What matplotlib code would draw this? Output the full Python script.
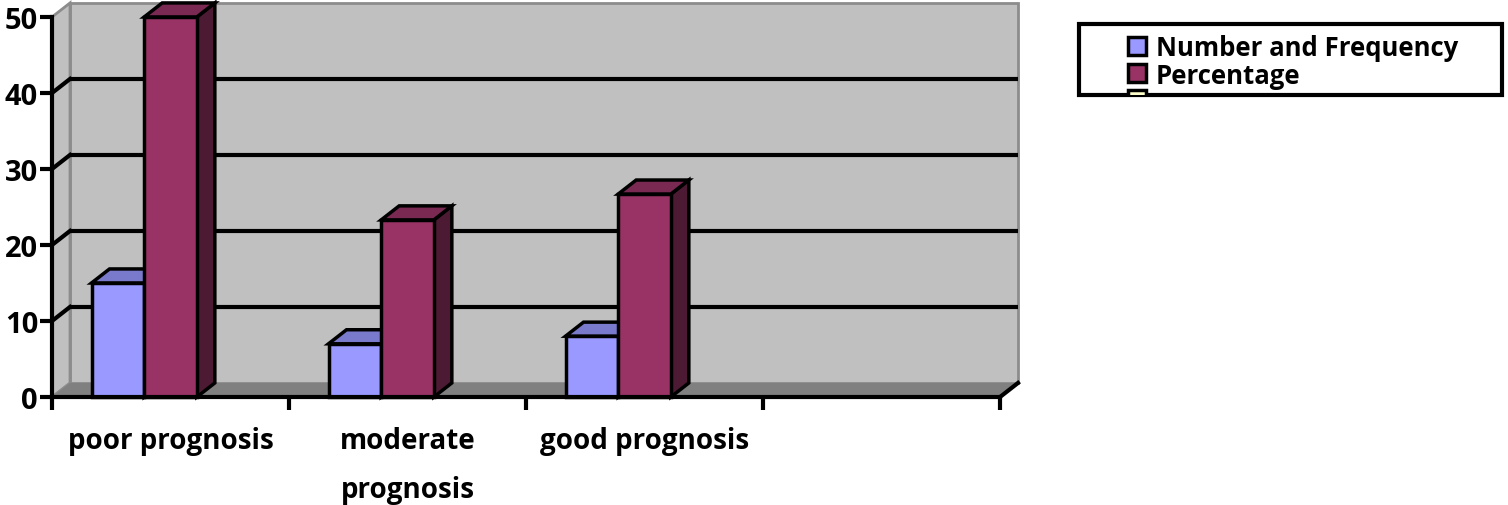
import matplotlib.pyplot as plt
from matplotlib.patches import Rectangle, Polygon

plt.rcParams['font.family'] = ['Open Sans', 'DejaVu Sans']
plt.rcParams['font.weight'] = 'bold'

categories = ["poor prognosis", "moderate\nprognosis", "good prognosis", ""]
series_names = ["Number and Frequency", "Percentage", ""]
number_freq = [15, 7, 8]
percentage = [50, 23.3, 26.7]
colors_front = ["#9999FF", "#993366"]
colors_top = ["#7A7ACC", "#7A2952"]
colors_side = ["#7A7ACC", "#4D1A33"]

W, H = 1508, 506
fig = plt.figure(figsize=(W / 100, H / 100), dpi=100)
ax = fig.add_axes([52 / W, 1 - 398 / H, 948 / W, 380 / H])
ax.set_xlim(0, 4)
ax.set_ylim(0, 50)
ax.patch.set_visible(False)

# depth of the 3d effect in data units
dx, dy = 0.076, 1.85
ncat = len(categories)
ymax = 50

# back wall, side wall, floor
ax.add_patch(Rectangle((dx, dy), ncat, ymax, facecolor="#C0C0C0",
                       edgecolor="#8C8C8C", lw=2, clip_on=False, zorder=0))
ax.add_patch(Polygon([(0, 0), (0, ymax), (dx, ymax + dy), (dx, dy)],
                     facecolor="#C0C0C0", edgecolor="#8C8C8C", lw=2,
                     clip_on=False, zorder=0))
ax.add_patch(Polygon([(0, 0), (ncat, 0), (ncat + dx, dy), (dx, dy)],
                     facecolor="#808080", edgecolor="none",
                     clip_on=False, zorder=1))

# gridlines on the back wall and the left wall
for v in range(10, ymax, 10):
    ax.plot([dx, ncat + dx], [v + dy, v + dy], color="black", lw=3,
            zorder=2, clip_on=False, solid_capstyle="butt")
    ax.plot([0, dx], [v, v + dy], color="black", lw=3, zorder=2,
            clip_on=False)
ax.plot([ncat, ncat + dx], [0, dy], color="black", lw=3, zorder=2,
        clip_on=False)

# bars
nser = 3
bw = 1 / (nser + 1.5)
for s, vals in enumerate([number_freq, percentage]):
    for i, v in enumerate(vals):
        x0 = i + (0.75 + s) * bw
        kw = dict(edgecolor="black", lw=2.5, clip_on=False, zorder=3,
                  joinstyle="miter")
        ax.add_patch(Polygon([(x0 + bw, 0), (x0 + bw + dx, dy),
                              (x0 + bw + dx, v + dy), (x0 + bw, v)],
                             facecolor=colors_side[s], **kw))
        ax.add_patch(Polygon([(x0, v), (x0 + bw, v), (x0 + bw + dx, v + dy),
                              (x0 + dx, v + dy)],
                             facecolor=colors_top[s], **kw))
        ax.add_patch(Rectangle((x0, 0), bw, v, facecolor=colors_front[s], **kw))

# axes
for sp in ["top", "right"]:
    ax.spines[sp].set_visible(False)
for sp in ["left", "bottom"]:
    ax.spines[sp].set_linewidth(3)
    ax.spines[sp].set_zorder(4)
ax.set_yticks(range(0, ymax + 1, 10))
ax.tick_params(axis="y", length=9, width=3, labelsize=21, pad=1)
ax.set_xticks(range(ncat + 1))
ax.set_xticklabels([])
ax.tick_params(axis="x", which="major", length=9, width=3)
ax.set_xticks([i + 0.5 for i in range(ncat)], minor=True)
ax.set_xticklabels(categories, minor=True, fontsize=20, linespacing=1.9,
                   va="top")
ax.tick_params(axis="x", which="minor", length=0, pad=21)

# legend
def fx(px):
    return px / W


def fy(py):
    return 1 - py / H


box = Rectangle((fx(1079), fy(96)), fx(1502) - fx(1079), fy(25) - fy(96),
                transform=fig.transFigure, facecolor="white",
                edgecolor="black", lw=3)
fig.add_artist(box)
leg_colors = colors_front + ["#FFFFCC"]
for k, name in enumerate(series_names):
    yc = 47 + 26.5 * k
    sq = Rectangle((fx(1128), fy(yc + 9)), fx(18), 18 / H,
                   transform=fig.transFigure, facecolor=leg_colors[k],
                   edgecolor="black", lw=2.5)
    fig.add_artist(sq)
    sq.set_clip_path(box)
    if name:
        fig.text(fx(1156), fy(56 + 27.5 * k), name, fontsize=18.5,
                 va="baseline", ha="left")

fig.savefig("out.png", dpi=100)
